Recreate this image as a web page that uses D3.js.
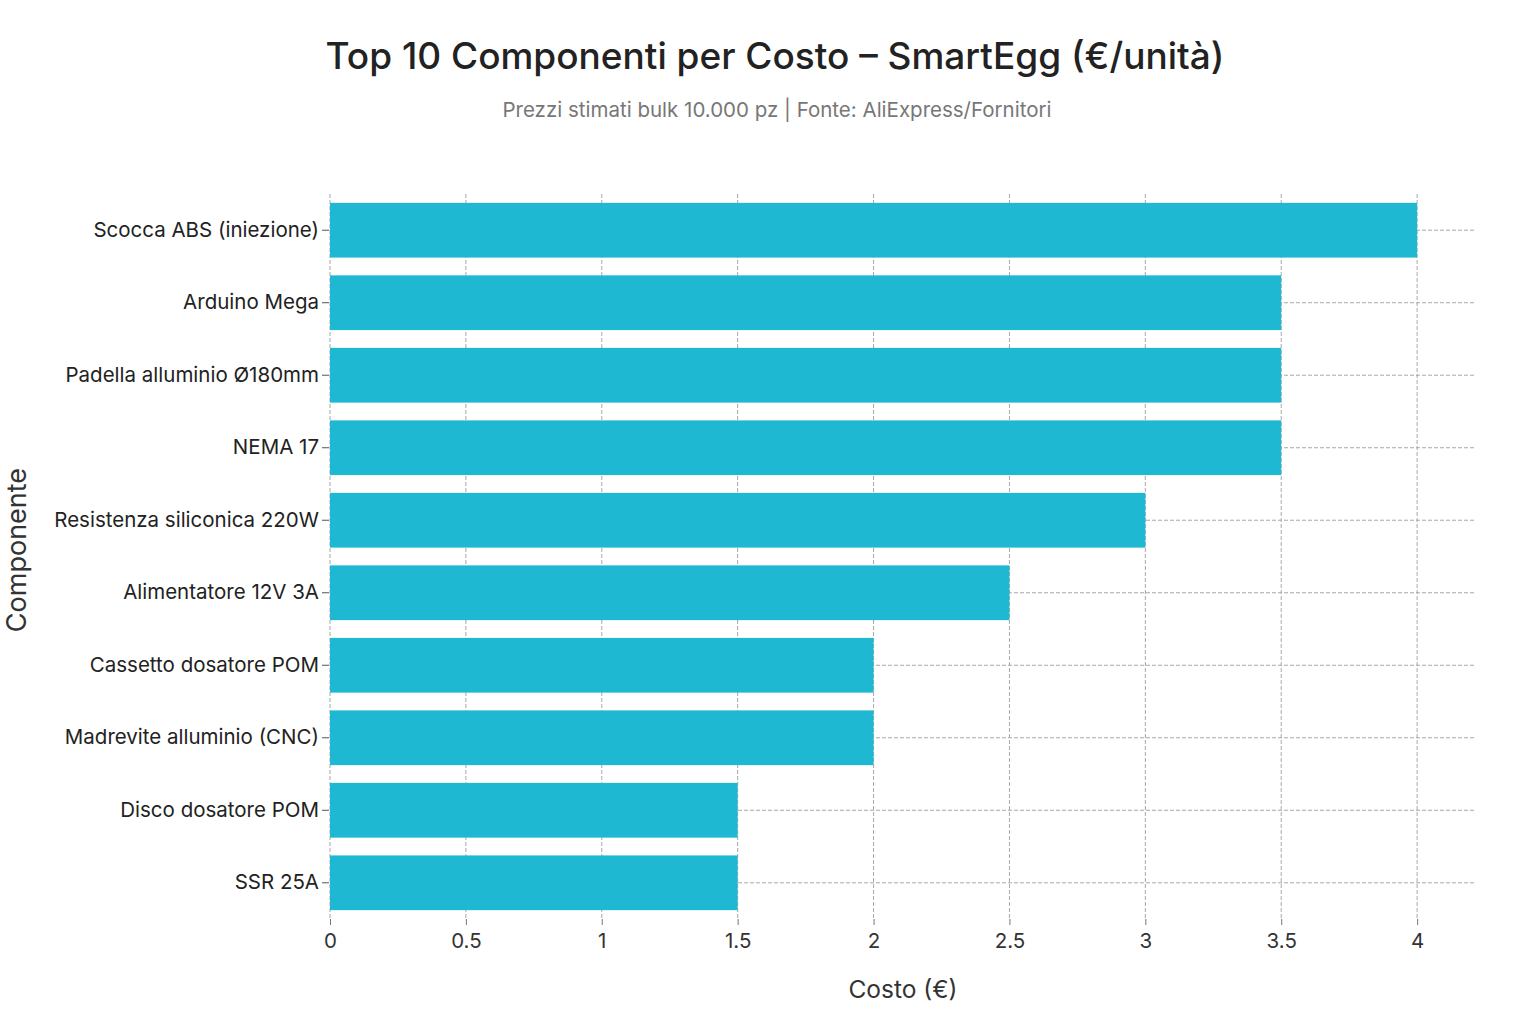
<!DOCTYPE html>
<html><head><meta charset="utf-8">
<script src="https://cdn.jsdelivr.net/npm/d3@7"></script>
<style>body{margin:0;background:#fff;} svg{display:block;}</style>
</head><body>
<svg id="c" width="1535" height="1024"></svg>
<script>
const categories = ["Scocca ABS (iniezione)","Arduino Mega","Padella alluminio Ø180mm","NEMA 17","Resistenza siliconica 220W","Alimentatore 12V 3A","Cassetto dosatore POM","Madrevite alluminio (CNC)","Disco dosatore POM","SSR 25A"];
const costs = [4, 3.5, 3.5, 3.5, 3, 2.5, 2, 2, 1.5, 1.5];
const xTicks = [0, 0.5, 1, 1.5, 2, 2.5, 3, 3.5, 4];

const font = "Inter, 'Liberation Sans', sans-serif";
const svg = d3.select("#c");
const L = 330, R = 1475, T = 194, B = 919;
const x = d3.scaleLinear().domain([0, 4.213]).range([L, R]);
const y = d3.scaleBand().domain(categories).range([T, B]).paddingInner(0.245).paddingOuter(0.122);

svg.append("rect").attr("width",1535).attr("height",1024).attr("fill","#fff");

// grid
svg.append("g").selectAll("line").data(xTicks).join("line")
  .attr("x1",d=>x(d)).attr("x2",d=>x(d)).attr("y1",T).attr("y2",B)
  .attr("stroke","#a8a8a8").attr("stroke-width",1).attr("stroke-dasharray","4,2");
svg.append("g").selectAll("line").data(categories).join("line")
  .attr("x1",L).attr("x2",R).attr("y1",d=>y(d)+y.bandwidth()/2).attr("y2",d=>y(d)+y.bandwidth()/2)
  .attr("stroke","#a8a8a8").attr("stroke-width",1).attr("stroke-dasharray","4,2");

// bars
svg.append("g").selectAll("rect").data(categories).join("rect")
  .attr("x",x(0)).attr("y",d=>y(d)).attr("height",y.bandwidth())
  .attr("width",(d,i)=>x(costs[i])-x(0)).attr("fill","#1fb8d3");

// axes
const xa = svg.append("g").attr("transform",`translate(0,${B})`)
  .call(d3.axisBottom(x).tickValues(xTicks).tickFormat(d3.format("~g")).tickSize(6).tickPadding(8));
xa.select(".domain").remove();
xa.selectAll("line").attr("stroke","#777");
xa.selectAll("text").attr("font-family",font).attr("font-size",20.5).attr("fill","#333");

const ya = svg.append("g").attr("transform",`translate(${L},0)`)
  .call(d3.axisLeft(y).tickSize(7).tickPadding(4));
ya.select(".domain").remove();
ya.selectAll("line").attr("stroke","#555").attr("transform","translate(-1,0)");
ya.selectAll("text").attr("font-family",font).attr("font-size",20.5).attr("fill","#222");

// titles
svg.append("text").attr("x",775).attr("y",69).attr("text-anchor","middle")
  .attr("font-family",font).attr("font-weight",500).attr("font-size",37).attr("fill","#222")
  .text("Top 10 Componenti per Costo – SmartEgg (€/unità)");
svg.append("text").attr("x",777).attr("y",117).attr("text-anchor","middle")
  .attr("font-family",font).attr("font-size",20.5).attr("fill","#777")
  .text("Prezzi stimati bulk 10.000 pz | Fonte: AliExpress/Fornitori");
svg.append("text").attr("x",903).attr("y",998).attr("text-anchor","middle")
  .attr("font-family",font).attr("font-size",24.5).attr("fill","#333").text("Costo (€)");
svg.append("text").attr("transform","translate(26,550) rotate(-90)").attr("text-anchor","middle")
  .attr("font-family",font).attr("font-size",27).attr("fill","#333").text("Componente");
</script>
</body></html>
